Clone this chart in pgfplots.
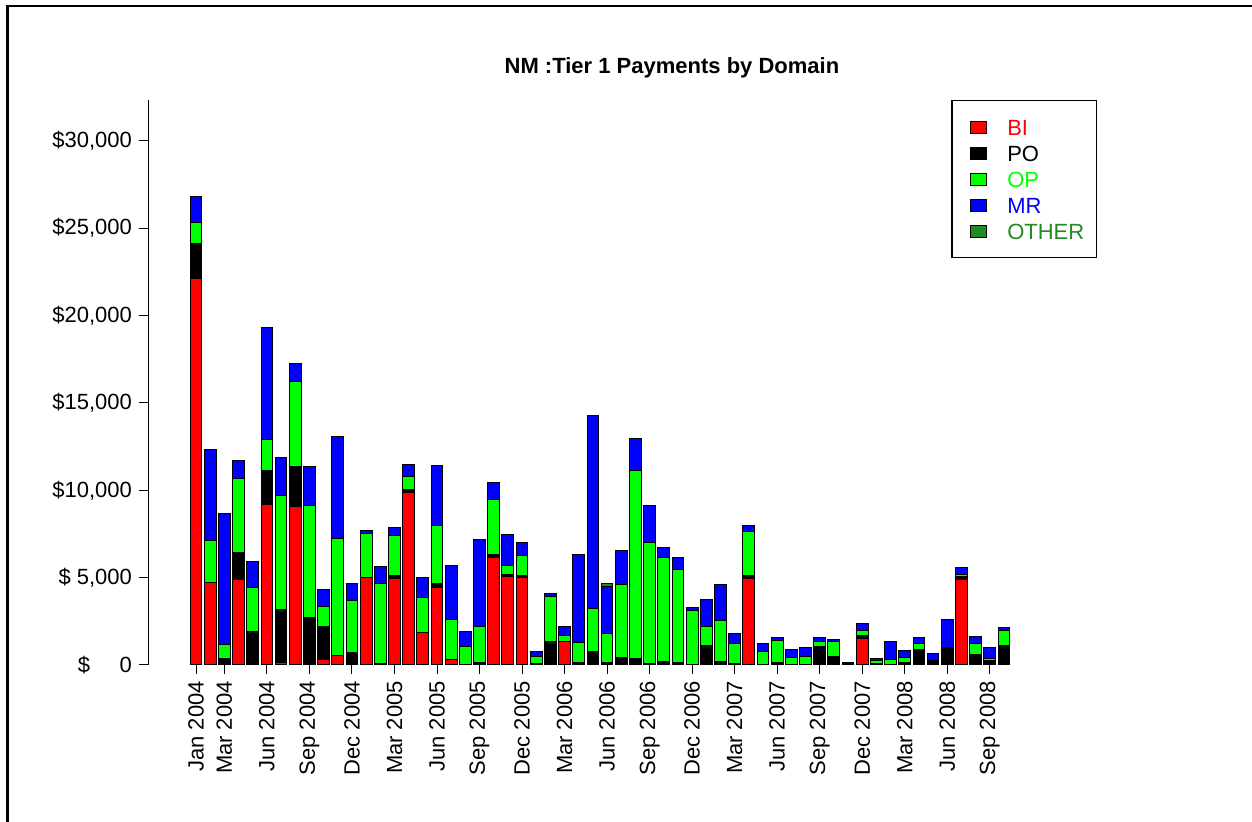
\documentclass[border=0pt]{standalone}
\usepackage{fontspec}
\setmainfont{Liberation Sans}
\usepackage{pgfplots}
\pgfplotsset{compat=1.18}
\usepackage{pgfplotstable}
\definecolor{bired}{RGB}{255,0,0}
\definecolor{opgreen}{RGB}{0,255,0}
\definecolor{mrblue}{RGB}{0,0,255}
\definecolor{othgreen}{RGB}{34,139,34}

\pgfplotstableread{
x BI PO OP MR OT
0 22100 2000 1200 1500 0
1 4700 0 2450 5200 0
2 0 350 800 7500 0
3 4900 1550 4200 1050 0
4 0 1930 2520 1460 0
5 9200 1950 1750 6400 0
6 150 3000 6550 2150 0
7 9050 2300 4850 1050 0
8 0 2700 6450 2200 0
9 300 1900 1150 950 0
10 550 0 6700 5850 0
11 0 730 2950 1000 0
12 5000 0 2550 130 0
13 0 70 4600 950 0
14 4970 170 2300 450 0
15 9900 150 730 710 0
16 1880 0 1970 1160 0
17 4450 240 3280 3420 0
18 340 0 2270 3060 0
19 0 0 1030 870 0
20 0 130 2050 5000 0
21 6170 170 3120 970 0
22 5070 130 470 1820 0
23 5000 130 1160 700 0
24 0 100 390 280 0
25 0 1350 2550 210 0
26 1330 0 380 490 0
27 0 130 1180 5000 0
28 0 780 2460 11060 0
29 0 130 1670 2690 170
30 0 420 4200 1930 0
31 0 360 10800 1810 0
32 0 80 6910 2160 0
33 0 190 5970 560 0
34 0 130 5360 680 0
35 0 0 3140 170 0
36 0 1120 1080 1550 0
37 0 190 2350 2080 0
38 0 110 1100 610 0
39 4940 190 2500 340 0
40 0 0 800 410 0
41 0 170 1250 130 0
42 0 0 440 450 0
43 0 0 490 510 0
44 0 1060 270 220 0
45 0 510 820 110 0
46 0 40 60 0 70
47 1530 170 290 380 0
48 0 80 190 90 0
49 0 40 280 1010 0
50 0 170 280 380 0
51 0 890 320 340 0
52 0 230 0 450 0
53 0 1020 0 1570 0
54 4920 140 130 380 0
55 0 610 640 360 0
56 0 230 130 640 0
57 0 1120 870 170 0
}\paytable

\pgfplotsset{sqlegend/.style={legend image code/.code={%
  \path[draw=none, fill=none] (0pt,-3pt) rectangle (11.5pt,3pt);
  \draw[##1, line width=0.5pt] (3.5pt,-3pt) rectangle (11.5pt,3pt);}}}

\begin{document}
\begin{tikzpicture}
\path[use as bounding box] (0,0) rectangle (626pt,411pt);
\draw[line width=1.1pt] (3.75pt,0) -- (3.75pt,408pt) -- (626pt,408pt);
\begin{axis}[
  at={(74pt,78.5pt)}, anchor=south west,
  scale only axis, width=452pt, height=282.5pt,
  xmin=-3.39, xmax=60.39, ymin=0, ymax=32340,
  axis lines*=left,
  x axis line style={draw=none},
  y axis line style={line width=0.5pt},
  ybar stacked, bar width=0.833,
  scaled y ticks=false,
  tick align=outside, major tick length=4.5pt,
  tick style={black, line width=0.5pt},
  xtick={0,2,5,8,11,14,17,20,23,26,29,32,35,38,41,44,47,50,53,56},
  xticklabels={Jan 2004,Mar 2004,Jun 2004,Sep 2004,Dec 2004,Mar 2005,Jun 2005,Sep 2005,Dec 2005,Mar 2006,Jun 2006,Sep 2006,Dec 2006,Mar 2007,Jun 2007,Sep 2007,Dec 2007,Mar 2008,Jun 2008,Sep 2008},
  xticklabel style={rotate=90, anchor=east, font=\fontsize{11}{13}\selectfont},
  ytick={0,5000,10000,15000,20000,25000,30000},
  yticklabels={{\$\kern14.8pt0},{\$ 5,000},{\$10,000},{\$15,000},{\$20,000},{\$25,000},{\$30,000}},
  yticklabel style={font=\fontsize{11}{13}\selectfont},
  title={NM :Tier 1 Payments by Domain},
  title style={at={(axis description cs:0.5796,1.025)}, anchor=base, yshift=0pt, font=\bfseries\fontsize{11}{13}\selectfont},
  legend style={at={(axis description cs:0.8883,1)}, anchor=north west, draw=black, line width=0.75pt,
    inner xsep=6pt, inner ysep=6.75pt, row sep=0pt, column sep=10pt,
    font=\fontsize{11}{13}\selectfont, nodes={inner sep=0pt, text height=10.5pt, text depth=2.5pt}},
  legend cell align=left,
]
\addplot[fill=bired, draw=black, line width=0.5pt, sqlegend] table[x=x,y=BI]{\paytable};
\addlegendentry{\textcolor{bired}{BI}}
\addplot[fill=black, draw=black, line width=0.5pt, sqlegend] table[x=x,y=PO]{\paytable};
\addlegendentry{\textcolor{black}{PO}}
\addplot[fill=opgreen, draw=black, line width=0.5pt, sqlegend] table[x=x,y=OP]{\paytable};
\addlegendentry{\textcolor{opgreen}{OP}}
\addplot[fill=mrblue, draw=black, line width=0.5pt, sqlegend] table[x=x,y=MR]{\paytable};
\addlegendentry{\textcolor{mrblue}{MR}}
\addplot[fill=othgreen, draw=black, line width=0.5pt, sqlegend] table[x=x,y=OT]{\paytable};
\addlegendentry{\textcolor{othgreen}{OTHER}}
\end{axis}
\end{tikzpicture}
\end{document}
